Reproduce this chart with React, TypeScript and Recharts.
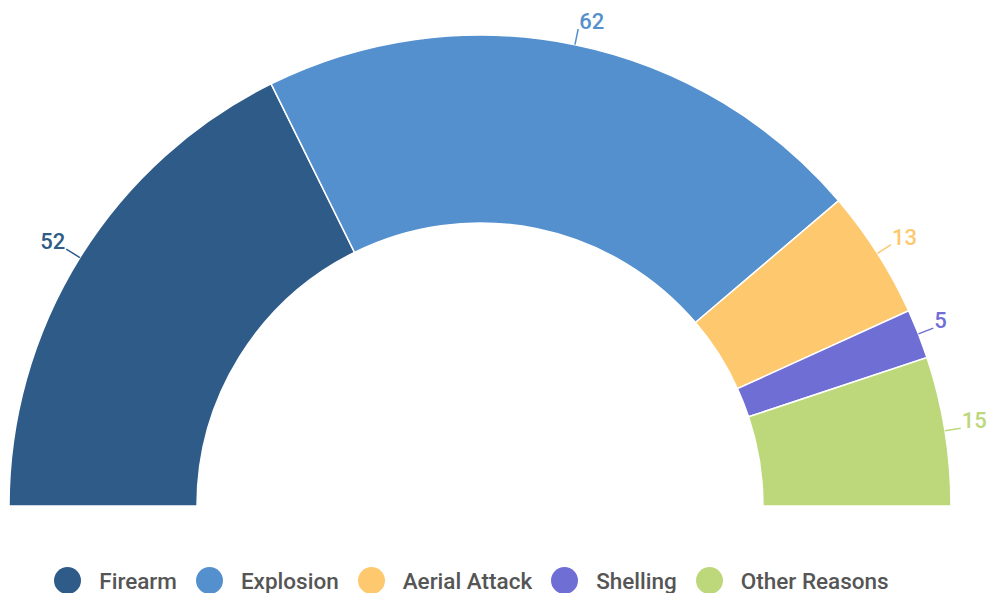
import { PieChart, Pie, Cell, Legend } from "recharts";

const categories = ["Firearm", "Explosion", "Aerial Attack", "Shelling", "Other Reasons"];
const counts = [52, 62, 13, 5, 15];
const colors = ["#2f5b88", "#5490ce", "#fdc86e", "#6f6ed4", "#bcd87b"];

const data = categories.map((name, i) => ({ name, value: counts[i] }));

const RAD = Math.PI / 180;

const renderLabel = (props: any) => {
  const { cx, cy, midAngle, outerRadius, index, value } = props;
  const cos = Math.cos(-midAngle * RAD);
  const sin = Math.sin(-midAngle * RAD);
  const x1 = cx + outerRadius * cos;
  const y1 = cy + outerRadius * sin;
  const x2 = cx + (outerRadius + 16) * cos;
  const y2 = cy + (outerRadius + 16) * sin;
  const right = x2 >= cx;
  return (
    <g>
      <line x1={x1} y1={y1} x2={x2} y2={y2} stroke={colors[index]} strokeWidth={1.5} />
      <text
        x={x2 + (right ? 1 : -1)}
        y={y2}
        fill={colors[index]}
        textAnchor={right ? "start" : "end"}
        fontSize={22}
        fontWeight={500}
        fontFamily="Roboto"
      >
        {value}
      </text>
    </g>
  );
};

const renderLegend = () => (
  <div style={{ display: "flex", justifyContent: "center", alignItems: "center", fontFamily: "Roboto" }}>
    {categories.map((name, i) => (
      <div key={name} style={{ display: "flex", alignItems: "center", marginRight: i < categories.length - 1 ? 19 : 0 }}>
        <span style={{ width: 27, height: 27, borderRadius: "50%", background: colors[i], display: "inline-block", marginRight: 18 }} />
        <span style={{ fontSize: 22.5, fontWeight: 500, color: "#555555" }}>{name}</span>
      </div>
    ))}
  </div>
);

export default function App() {
  return (
    <div style={{ position: "absolute", left: 0, top: 0, width: 991, height: 593, background: "#fff" }}>
      <PieChart width={991} height={593} margin={{ top: 0, right: 0, bottom: 0, left: 0 }}>
        <Pie
          data={data}
          dataKey="value"
          nameKey="name"
          cx={480}
          cy={506}
          startAngle={180}
          endAngle={0}
          innerRadius={283}
          outerRadius={471}
          stroke="#ffffff"
          strokeWidth={1.5}
          label={renderLabel}
          labelLine={false}
          isAnimationActive={false}
        >
          {data.map((d, i) => (
            <Cell key={d.name} fill={colors[i]} />
          ))}
        </Pie>
        <Legend content={renderLegend} wrapperStyle={{ left: 0, top: 567, width: 943 }} />
      </PieChart>
    </div>
  );
}
